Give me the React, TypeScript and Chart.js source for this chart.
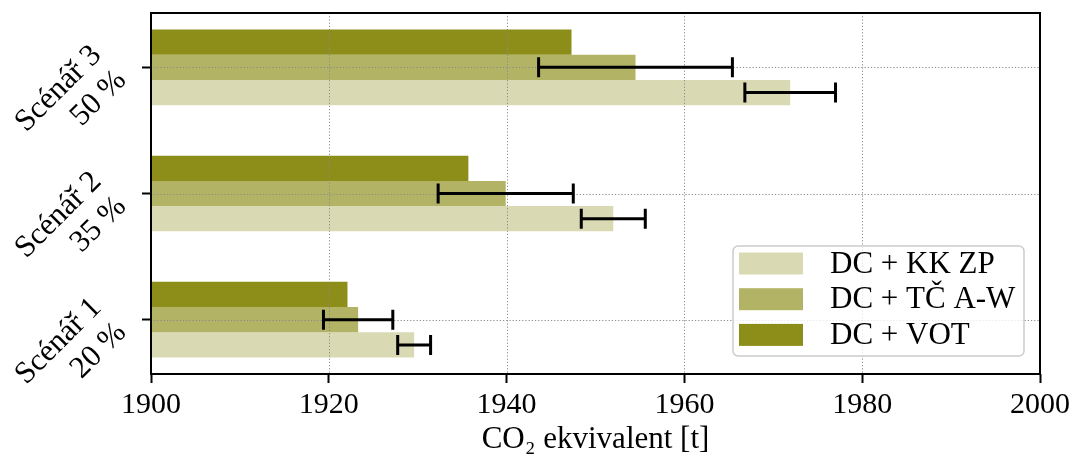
import React, { useEffect, useRef } from 'react';
import { Chart, registerables } from 'chart.js';

Chart.register(...registerables);

// ---- data ----
const categories: string[][] = [
  ['Scénář 1', '20 %'],
  ['Scénář 2', '35 %'],
  ['Scénář 3', '50 %'],
];
const categoryPositions = [0, 1, 2];
const seriesNames = ['DC + VOT', 'DC + TČ A-W', 'DC + KK ZP'];
const votValues = [1922.1, 1935.7, 1947.3];
const tcValues = [1923.3, 1939.9, 1954.5];
const kkValues = [1929.6, 1952.0, 1971.9];
const tcErrors = [3.9, 7.6, 10.9];
const kkErrors = [1.85, 3.6, 5.1];
const xTicks = [1900, 1920, 1940, 1960, 1980, 2000];
const xTitle = 'CO₂ ekvivalent [t]';

// ---- styles ----
const colors = ['rgb(141,141,26)', 'rgb(179,179,102)', 'rgb(217,217,179)'];
const FONT = "'Liberation Serif', 'Times New Roman', serif";

const toPoints = (vals: number[]) => vals.map((v, i) => ({ x: v, y: categoryPositions[i] }));

const overlayPlugin = {
  id: 'overlay',
  afterDatasetsDraw(chart: any) {
    const { ctx, chartArea: a, scales } = chart;
    const xs = scales.x;
    const ys = scales.y;
    // grid on top of bars
    ctx.save();
    ctx.beginPath();
    ctx.rect(a.left, a.top, a.right - a.left, a.bottom - a.top);
    ctx.clip();
    ctx.strokeStyle = '#8a8a8a';
    ctx.lineWidth = 1;
    ctx.setLineDash([1.2, 2]);
    xs.ticks.forEach((t: any) => {
      const px = Math.round(xs.getPixelForValue(t.value)) + 0.5;
      ctx.beginPath();
      ctx.moveTo(px, a.top);
      ctx.lineTo(px, a.bottom);
      ctx.stroke();
    });
    ys.ticks.forEach((t: any) => {
      const py = Math.round(ys.getPixelForValue(t.value)) + 0.5;
      ctx.beginPath();
      ctx.moveTo(a.left, py);
      ctx.lineTo(a.right, py);
      ctx.stroke();
    });
    ctx.restore();

    // error bars
    ctx.save();
    ctx.setLineDash([]);
    ctx.strokeStyle = '#000';
    ctx.lineWidth = 3;
    chart.data.datasets.forEach((ds: any, di: number) => {
      const errs: number[] | undefined = ds.errorBars;
      if (!errs) return;
      const meta = chart.getDatasetMeta(di);
      meta.data.forEach((bar: any, i: number) => {
        const v = ds.data[i].x;
        const e = errs[i];
        const x0 = xs.getPixelForValue(v - e);
        const x1 = xs.getPixelForValue(v + e);
        const cy = bar.y;
        const cap = 10;
        ctx.beginPath();
        ctx.moveTo(x0, cy);
        ctx.lineTo(x1, cy);
        ctx.moveTo(x0, cy - cap);
        ctx.lineTo(x0, cy + cap);
        ctx.moveTo(x1, cy - cap);
        ctx.lineTo(x1, cy + cap);
        ctx.stroke();
      });
    });
    ctx.restore();
  },
  afterDraw(chart: any) {
    const { ctx, chartArea: a } = chart;
    // spines
    ctx.save();
    ctx.strokeStyle = '#000';
    ctx.lineWidth = 2;
    ctx.strokeRect(a.left, a.top, a.right - a.left, a.bottom - a.top);
    ctx.restore();

    // legend (reverse dataset order)
    const w = 291;
    const h = 110;
    const bx = a.right - 16 - w;
    const by = a.bottom - 18 - h;
    ctx.save();
    ctx.fillStyle = 'rgba(255,255,255,0.8)';
    ctx.strokeStyle = 'rgb(204,204,204)';
    ctx.lineWidth = 1.5;
    ctx.beginPath();
    (ctx as any).roundRect(bx, by, w, h, 5);
    ctx.fill();
    ctx.stroke();
    const ds = chart.data.datasets.slice().reverse();
    ctx.font = `31px ${FONT}`;
    ctx.textBaseline = 'middle';
    ctx.textAlign = 'left';
    ds.forEach((d: any, i: number) => {
      const cy = by + 17.5 + i * 35.7;
      ctx.fillStyle = d.backgroundColor;
      ctx.fillRect(bx + 6, cy - 11, 64, 22);
      ctx.fillStyle = '#000';
      ctx.fillText(d.label, bx + 97, cy + 1);
    });
    ctx.restore();
  },
};

export default function App() {
  const ref = useRef<HTMLCanvasElement | null>(null);

  useEffect(() => {
    if (!ref.current) return;
    const datasets = [
      { label: seriesNames[0], data: toPoints(votValues), backgroundColor: colors[0] },
      { label: seriesNames[1], data: toPoints(tcValues), backgroundColor: colors[1], errorBars: tcErrors },
      { label: seriesNames[2], data: toPoints(kkValues), backgroundColor: colors[2], errorBars: kkErrors },
    ];
    const chart = new Chart(ref.current, {
      type: 'bar',
      data: { datasets: datasets as any },
      options: {
        indexAxis: 'y',
        animation: false,
        responsive: false,
        devicePixelRatio: 1,
        layout: { padding: { top: 13, right: 42, left: 0, bottom: 0 } },
        datasets: { bar: { categoryPercentage: 0.6, barPercentage: 1.0, borderWidth: 0 } },
        plugins: { legend: { display: false }, tooltip: { enabled: false } },
        scales: {
          x: {
            type: 'linear',
            min: 1900,
            max: 2000,
            afterBuildTicks: (s: any) => {
              s.ticks = xTicks.map((v) => ({ value: v }));
            },
            afterFit: (s: any) => {
              s.height = 92;
              s.paddingLeft = 0;
              s.paddingRight = 0;
            },
            grid: {
              display: true,
              offset: false,
              drawOnChartArea: false,
              drawTicks: true,
              tickLength: 9,
              tickWidth: 2,
              tickColor: '#000',
            },
            border: { display: false },
            ticks: {
              color: '#000',
              font: { family: FONT, size: 30 },
              padding: 4,
              maxRotation: 0,
              autoSkip: false,
              callback: (v: any) => String(v),
            },
            title: {
              display: true,
              text: xTitle,
              color: '#000',
              font: { family: FONT, size: 31 },
              padding: { top: 0, bottom: 8 },
            },
          },
          y: {
            type: 'linear',
            min: -0.43,
            max: 2.43,
            offset: false,
            afterBuildTicks: (s: any) => {
              s.ticks = categoryPositions.map((v) => ({ value: v }));
            },
            afterFit: (s: any) => {
              s.width = 151;
              s.paddingTop = 0;
              s.paddingBottom = 0;
            },
            grid: {
              display: true,
              offset: false,
              drawOnChartArea: false,
              drawTicks: true,
              tickLength: 9,
              tickWidth: 2,
              tickColor: '#000',
            },
            border: { display: false },
            ticks: {
              color: '#000',
              font: { family: FONT, size: 31, lineHeight: 1.13 },
              padding: 33,
              labelOffset: -4,
              minRotation: 45,
              maxRotation: 45,
              autoSkip: false,
              callback: (v: any) => {
                const idx = categoryPositions.indexOf(Number(v));
                return idx >= 0 ? categories[idx] : '';
              },
            },
          },
        },
      },
      plugins: [overlayPlugin],
    });
    return () => chart.destroy();
  }, []);

  return (
    <div style={{ position: 'absolute', left: 0, top: 0, width: 1082, height: 466, background: '#fff' }}>
      <canvas ref={ref} width={1082} height={466} />
    </div>
  );
}
